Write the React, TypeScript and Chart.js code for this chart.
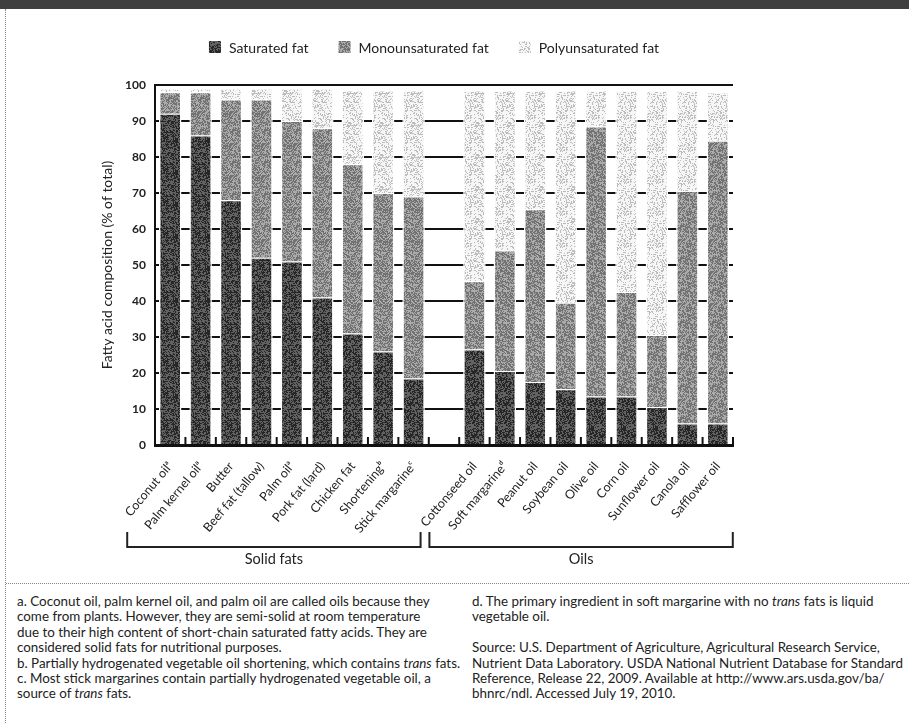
import React, { useEffect, useRef } from "react";
import { Chart, registerables } from "chart.js";

Chart.register(...registerables);

const categories = [
  "Coconut oil\u1d43",
  "Palm kernel oil\u1d43",
  "Butter",
  "Beef fat (tallow)",
  "Palm oil\u1d43",
  "Pork fat (lard)",
  "Chicken fat",
  "Shortening\u1d47",
  "Stick margarine\u1d9c",
  "",
  "Cottonseed oil",
  "Soft margarine\u1d48",
  "Peanut oil",
  "Soybean oil",
  "Olive oil",
  "Corn oil",
  "Sunflower oil",
  "Canola oil",
  "Safflower oil",
];

const saturated = [92, 86, 68, 52, 51, 41, 31, 26, 18.5, null, 26.5, 20.5, 17.5, 15.5, 13.5, 13.5, 10.5, 6, 6];
const monounsaturated = [6, 12, 28, 44, 39, 47, 47, 44, 50.5, null, 19, 33.5, 48, 24, 75, 29, 20, 64.5, 78.5];
const polyunsaturated = [1, 1, 3, 3, 9, 11, 20.5, 28.5, 29.5, null, 53, 44.5, 33, 59, 10, 56, 68, 28, 13.5];

const seriesNames = ["Saturated fat", "Monounsaturated fat", "Polyunsaturated fat"];
const yTicks = [0, 10, 20, 30, 40, 50, 60, 70, 80, 90, 100];
const groups = [
  { label: "Solid fats", from: 0, to: 8 },
  { label: "Oils", from: 10, to: 18 },
];

const FONT = "Lato, 'Noto Sans', sans-serif";

function hash(x: number, y: number, seed: number) {
  let n = Math.imul(x + 1, 73856093) ^ Math.imul(y + 1, 19349663) ^ Math.imul(seed + 7, 83492791);
  n = Math.imul(n ^ (n >>> 13), 1274126177);
  n = n ^ (n >>> 16);
  return ((n >>> 0) % 1000) / 1000;
}

function makePattern(light: string, dark: string, ratio: number, seed: number) {
  const c = document.createElement("canvas");
  c.width = 32;
  c.height = 32;
  const g = c.getContext("2d")!;
  for (let y = 0; y < 32; y++) {
    for (let x = 0; x < 32; x++) {
      g.fillStyle = hash(x, y, seed) < ratio ? dark : light;
      g.fillRect(x, y, 1, 1);
    }
  }
  return g.createPattern(c, "repeat")!;
}

export default function App() {
  const ref = useRef<HTMLCanvasElement>(null);

  useEffect(() => {
    document.body.style.margin = "0";
    const canvas = ref.current!;
    const pSat = makePattern("#626262", "#262626", 0.5, 1);
    const pMono = makePattern("#ababab", "#727272", 0.5, 2);
    const pPoly = makePattern("#f6f6f6", "#bdbdbd", 0.3, 3);
    const fills = [pSat, pMono, pPoly];

    const customDraw = {
      id: "customDraw",
      afterDraw(chart: any) {
        const ctx = chart.ctx;
        const xs = chart.scales.x;
        const area = chart.chartArea;
        ctx.save();
        // inner ticks at category boundaries
        const n = categories.length;
        const step = (area.right - area.left) / n;
        ctx.strokeStyle = "#111";
        ctx.lineWidth = 2;
        for (let i = 1; i <= n; i++) {
          const x = area.left + i * step;
          ctx.beginPath();
          ctx.moveTo(x, area.bottom - 8);
          ctx.lineTo(x, area.bottom);
          ctx.stroke();
        }
        // brackets
        const yTop = 532;
        const yBot = 547;
        groups.forEach((g, gi) => {
          const x0 = xs.getPixelForValue(g.from) - (gi === 0 ? 43 : 45);
          const x1 = xs.getPixelForValue(g.to) + (gi === 0 ? 7 : 15);
          ctx.strokeStyle = "#222";
          ctx.lineWidth = 2;
          ctx.beginPath();
          ctx.moveTo(x0, yTop);
          ctx.lineTo(x0, yBot);
          ctx.lineTo(x1, yBot);
          ctx.lineTo(x1, yTop);
          ctx.stroke();
          ctx.fillStyle = "#222";
          ctx.font = `14.5px ${FONT}`;
          ctx.textAlign = "center";
          ctx.textBaseline = "middle";
          ctx.fillText(g.label, (x0 + x1) / 2, 559);
        });
        // legend
        ctx.font = `14px ${FONT}`;
        ctx.textBaseline = "middle";
        ctx.textAlign = "left";
        const box = 12;
        const gapBoxText = 8;
        const gapItems = 30;
        const widths = seriesNames.map((s) => box + gapBoxText + ctx.measureText(s).width);
        const total = widths.reduce((a, b) => a + b, 0) + gapItems * (seriesNames.length - 1);
        let x = 434 - total / 2;
        const yc = 47;
        seriesNames.forEach((s, i) => {
          ctx.fillStyle = fills[i];
          ctx.fillRect(x, yc - box / 2, box, box);
          ctx.fillStyle = "#222";
          ctx.fillText(s, x + box + gapBoxText, yc + 1);
          x += widths[i] + gapItems;
        });
        ctx.restore();
      },
    };

    const vals = [saturated, monounsaturated, polyunsaturated];
    const chart = new Chart(canvas, {
      type: "bar",
      data: {
        labels: categories,
        datasets: seriesNames.map((name, i) => ({
          label: name,
          data: vals[i] as any,
          backgroundColor: fills[i] as any,
          borderColor: "#ffffff",
          borderWidth: { top: 1, left: 1.5, right: 1.5, bottom: 0 } as any,
          borderSkipped: false as any,
          barPercentage: 0.74,
          categoryPercentage: 1,
        })),
      },
      options: {
        responsive: false,
        animation: false,
        devicePixelRatio: 1,
        layout: { padding: { top: 85, left: 0, right: 176, bottom: 48 } },
        plugins: {
          legend: { display: false },
          tooltip: { enabled: false },
        },
        scales: {
          x: {
            stacked: true,
            grid: { display: false },
            border: { display: true, color: "#111", width: 3 },
            ticks: {
              autoSkip: false,
              maxRotation: 50,
              minRotation: 50,
              padding: 6,
              color: "#222",
              font: { family: FONT, size: 12.5 },
            },
            afterFit(scale: any) {
              scale.height = 90;
            },
          },
          y: {
            stacked: true,
            min: 0,
            max: 100,
            afterBuildTicks(scale: any) {
              scale.ticks = yTicks.map((v) => ({ value: v }));
            },
            grid: { color: "#111", lineWidth: 2, drawTicks: false },
            border: { display: true, color: "#111", width: 2 },
            ticks: {
              padding: 9,
              color: "#222",
              font: { family: FONT, size: 12, weight: "bold" as any },
            },
            title: {
              display: true,
              text: "Fatty acid composition (% of total)",
              color: "#222",
              font: { family: FONT, size: 14 },
              padding: { top: 99, bottom: 0 },
            },
            afterFit(scale: any) {
              scale.width = 155;
            },
          },
        },
      },
      plugins: [customDraw],
    });
    return () => chart.destroy();
  }, []);

  const noteStyle: React.CSSProperties = {
    position: "absolute",
    top: 594,
    fontFamily: FONT,
    fontSize: 13.4,
    lineHeight: "15.4px",
    color: "#222",
    whiteSpace: "pre",
  };

  return (
    <div style={{ position: "relative", width: 909, height: 723, background: "#fff", overflow: "hidden" }}>
      <div style={{ position: "absolute", left: 0, top: 0, width: 909, height: 9, background: "#3f3f3f" }} />
      <div style={{ position: "absolute", left: 5, top: 9, height: 714, borderLeft: "1px dotted #888" }} />
      <div style={{ position: "absolute", left: 6, top: 583, width: 903, borderTop: "1px dotted #888" }} />
      <canvas ref={ref} width={909} height={583} style={{ position: "absolute", left: 0, top: 0, width: 909, height: 583 }} />
      <div style={{ ...noteStyle, left: 17 }}>
        {"a. Coconut oil, palm kernel oil, and palm oil are called oils because they\ncome from plants. However, they are semi-solid at room temperature\ndue to their high content of short-chain saturated fatty acids. They are\nconsidered solid fats for nutritional purposes.\nb. Partially hydrogenated vegetable oil shortening, which contains "}
        <i>trans</i>
        {" fats.\nc. Most stick margarines contain partially hydrogenated vegetable oil, a\nsource of "}
        <i>trans</i>
        {" fats."}
      </div>
      <div style={{ ...noteStyle, left: 472 }}>
        {"d. The primary ingredient in soft margarine with no "}
        <i>trans</i>
        {" fats is liquid\nvegetable oil.\n\nSource: U.S. Department of Agriculture, Agricultural Research Service,\nNutrient Data Laboratory. USDA National Nutrient Database for Standard\nReference, Release 22, 2009. Available at http://www.ars.usda.gov/ba/\nbhnrc/ndl. Accessed July 19, 2010."}
      </div>
    </div>
  );
}
